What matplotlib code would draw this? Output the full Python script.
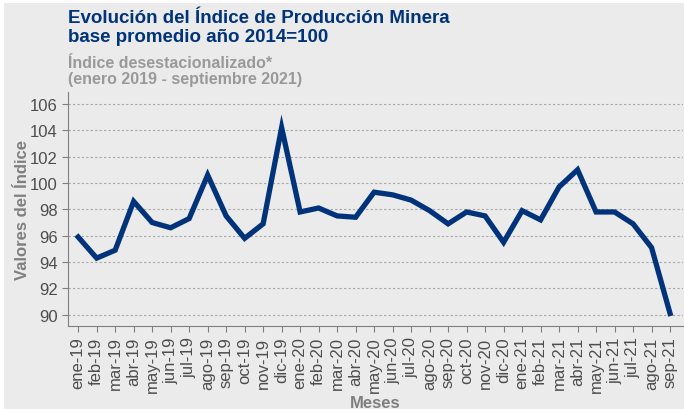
import matplotlib.pyplot as plt
from matplotlib.patches import Rectangle

plt.rcParams['font.family'] = ['Liberation Sans', 'DejaVu Sans']

meses = ['ene-19', 'feb-19', 'mar-19', 'abr-19', 'may-19', 'jun-19', 'jul-19',
         'ago-19', 'sep-19', 'oct-19', 'nov-19', 'dic-19',
         'ene-20', 'feb-20', 'mar-20', 'abr-20', 'may-20', 'jun-20', 'jul-20',
         'ago-20', 'sep-20', 'oct-20', 'nov-20', 'dic-20',
         'ene-21', 'feb-21', 'mar-21', 'abr-21', 'may-21', 'jun-21', 'jul-21',
         'ago-21', 'sep-21']
indice = [95.9, 94.3, 94.9, 98.6, 97.0, 96.6, 97.3, 100.6, 97.5, 95.8, 96.9, 104.2,
          97.8, 98.1, 97.5, 97.4, 99.3, 99.1, 98.7, 97.9, 96.9, 97.8, 97.5, 95.5,
          97.9, 97.2, 99.7, 101.0, 97.8, 97.8, 96.9, 95.1, 90.1]
yticks = [90, 92, 94, 96, 98, 100, 102, 104, 106]

bg = '#EBEBEB'
azul = '#00337A'
gris = '#4D4D4D'

fig = plt.figure(figsize=(6.84, 4.10), dpi=100, facecolor='white')
fig.patches.append(Rectangle((4 / 684, 0), 1, 1 - 4 / 410, transform=fig.transFigure,
                             facecolor=bg, edgecolor='none', zorder=-10))
ax = fig.add_axes([68 / 684, 83 / 410, 615 / 684, 234 / 410])
ax.set_facecolor(bg)

x = list(range(len(meses)))
ax.plot(x, indice, color=azul, linewidth=3.8, solid_joinstyle='miter', zorder=3)

ax.set_xlim(-0.55, 32.7)
ax.set_ylim(89.15, 106.9)
ax.set_yticks(yticks)
ax.set_xticks(x)
ax.set_xticklabels(meses, rotation=90)
ax.tick_params(axis='both', colors='#7F7F7F', labelcolor=gris, labelsize=12, length=4)
ax.grid(axis='y', color='#A6A6A6', linestyle=(0, (2, 2)), linewidth=0.8)
ax.set_axisbelow(True)
for s in ['top', 'right']:
    ax.spines[s].set_visible(False)
for s in ['left', 'bottom']:
    ax.spines[s].set_color('#7F7F7F')

ax.set_xlabel('Meses', fontsize=12, fontweight='bold', color='#7F7F7F', labelpad=2)
ax.set_ylabel('Valores del Índice', fontsize=12, fontweight='bold', color='#7F7F7F', labelpad=0)

fig.text(68 / 684, 1 - 10 / 410, 'Evolución del Índice de Producción Minera\nbase promedio año 2014=100',
         fontsize=13.5, fontweight='bold', color=azul, va='top', linespacing=1.12)
fig.text(68 / 684, 1 - 56 / 410, 'Índice desestacionalizado*\n(enero 2019 - septiembre 2021)',
         fontsize=11.5, fontweight='bold', color='#999999', va='top', linespacing=1.05)

fig.savefig('out.png', dpi=100, facecolor=fig.get_facecolor())
